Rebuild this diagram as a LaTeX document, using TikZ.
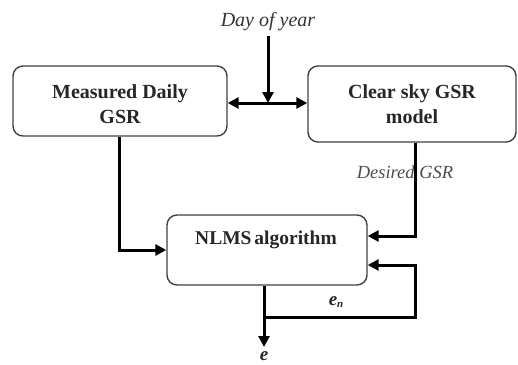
\documentclass[tikz,border=0pt]{standalone}
\usepackage{fontspec}
\setmainfont{Liberation Serif}
\usetikzlibrary{arrows.meta}
\begin{document}
\begin{tikzpicture}[x=1pt,y=-1pt,
  blk/.style={draw=black!75, line width=1.4pt, rounded corners=10pt, inner sep=0pt},
  blktext/.style={font=\fontsize{20}{25}\selectfont\bfseries, align=center, text=black!85},
  tip/.tip={Triangle[length=11pt,width=11pt]},
  flow/.style={line width=3pt, -tip},
  lbl/.style={font=\fontsize{19}{22}\selectfont\itshape, text=black!80}]
  \useasboundingbox (0,0) rectangle (518,364);
  % blocks
  \node[blk, minimum width=214pt, minimum height=70pt] (meas) at (120,101) {};
  \node[blktext] at (120,104) {Measured Daily\\GSR};
  \node[blk, minimum width=208pt, minimum height=76pt] (clear) at (412,104) {};
  \node[blktext] at (412,104) {Clear sky GSR\\model};
  \node[blk, minimum width=200pt, minimum height=70pt] (nlms) at (267,250) {};
  \node[blktext, font=\fontsize{19.5}{23}\selectfont\bfseries] at (266,240) {NLMS\hspace{-2pt} algorithm};
  % labels
  \node[lbl, font=\fontsize{20}{22}\selectfont\itshape] (day) at (268,22) {Day of year};
  \node[lbl, font=\fontsize{18.5}{22}\selectfont\itshape, text=black!70] (des) at (405,172) {Desired GSR};
  \node[font=\fontsize{19}{22}\selectfont\bfseries\itshape, text=black!85] (en) at (333,302) {e\rlap{\raisebox{-2pt}{\fontsize{11}{12}\selectfont\bfseries\itshape n}}};
  \node[font=\fontsize{19}{22}\selectfont\bfseries\itshape, text=black!85, anchor=base, inner sep=0pt] (eout) at (264,360) {e};
  % junction points
  \coordinate (mid) at (268,103);
  \coordinate (c1) at (119,250);
  \coordinate (c2) at (415,236);
  \coordinate (fb0) at (264,317);
  \coordinate (fb1) at (415,317);
  \coordinate (fb2) at (415,265);
  \coordinate (top) at (268,36);
  \coordinate (tipend) at (264,347);
  % connectors
  \draw[flow] (top) -- (mid);
  \draw[line width=3pt, tip-tip] (meas.east |- mid) -- (clear.west |- mid);
  \draw[flow] (meas.south -| c1) -- (c1) -- (nlms.west |- c1);
  \draw[flow] (clear.south -| c2) -- (c2) -- (nlms.east |- c2);
  \draw[flow] (nlms.south -| fb0) -- (fb0) -- (fb1) -- (fb2) -- (nlms.east |- fb2);
  \draw[flow] (fb0) -- (tipend);
\end{tikzpicture}
\end{document}
